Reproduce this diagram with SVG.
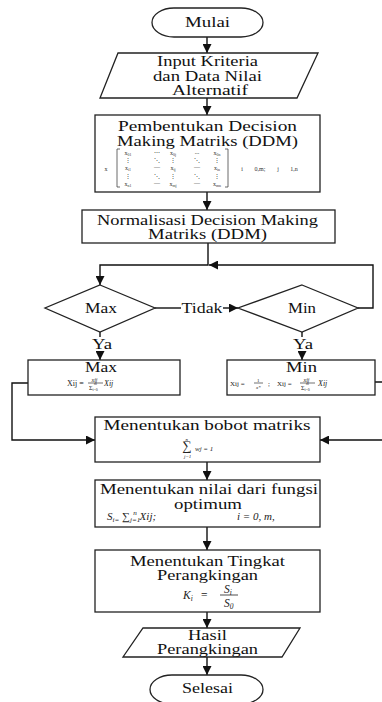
<svg xmlns="http://www.w3.org/2000/svg" width="382" height="702" viewBox="0 0 382 702">
<style>
.shape{fill:#fff;stroke:#222;stroke-width:1.3}
.line{fill:none;stroke:#111;stroke-width:1.4}
.t{font-family:"Liberation Serif","Times New Roman",serif;font-size:15px;fill:#111;text-anchor:middle}
.m{font-family:"Liberation Serif","Times New Roman",serif;font-size:6px;fill:#333;text-anchor:middle}
.f{font-family:"Liberation Serif","Times New Roman",serif;font-size:8px;fill:#222}
.i{font-style:italic}
.s{font-size:0.65em}
.bar{stroke:#333;stroke-width:0.7}
</style>
<defs>
<marker id="arr" viewBox="0 0 10 10" refX="10" refY="5" markerWidth="9" markerHeight="9" markerUnits="userSpaceOnUse" orient="auto">
<path d="M0,0 L10,5 L0,10 z" fill="#111"/>
</marker>
</defs>

<g id="connectors">
<path class="line" d="M207,37 V53" marker-end="url(#arr)"/>
<path class="line" d="M207,98 V115" marker-end="url(#arr)"/>
<path class="line" d="M207,192 V210" marker-end="url(#arr)"/>
<path class="line" d="M208,243 V265 H100 V285" marker-end="url(#arr)"/>
<path class="line" d="M358,308 H373 V265 H209" marker-end="url(#arr)"/>
<path class="line" d="M155,308 H181"/>
<path class="line" d="M223,308 H238" marker-end="url(#arr)"/>
<text class="t" x="202" y="313" textLength="41" lengthAdjust="spacingAndGlyphs">Tidak</text>
<path class="line" d="M100,332 V337"/>
<path class="line" d="M100,351 V360" marker-end="url(#arr)"/>
<text class="t" x="102" y="349" textLength="20" lengthAdjust="spacingAndGlyphs">Ya</text>
<path class="line" d="M302,332 V337"/>
<path class="line" d="M302,351 V360" marker-end="url(#arr)"/>
<text class="t" x="303" y="349" textLength="20" lengthAdjust="spacingAndGlyphs">Ya</text>
<path class="line" d="M28,383 H12 V440 H95" marker-end="url(#arr)"/>
<path class="line" d="M375,382 H392 V440 H320" marker-end="url(#arr)"/>
<path class="line" d="M207,462 V480" marker-end="url(#arr)"/>
<path class="line" d="M207,527 V550" marker-end="url(#arr)"/>
<path class="line" d="M207,612 V628" marker-end="url(#arr)"/>
<path class="line" d="M207,657 V675" marker-end="url(#arr)"/>
</g>

<g id="mulai">
<rect class="shape" x="152" y="8" width="111" height="29" rx="22" ry="14.5"/>
<text class="t" x="207.5" y="27" textLength="45" lengthAdjust="spacingAndGlyphs">Mulai</text>
</g>

<g id="input">
<polygon class="shape" points="118,53 318,53 297,98 100,98"/>
<text class="t" x="207.5" y="65.5" textLength="101" lengthAdjust="spacingAndGlyphs">Input Kriteria</text>
<text class="t" x="207.5" y="81" textLength="109" lengthAdjust="spacingAndGlyphs">dan Data Nilai</text>
<text class="t" x="210" y="94.5" textLength="76" lengthAdjust="spacingAndGlyphs">Alternatif</text>
</g>

<g id="pembentukan">
<rect class="shape" x="95" y="115" width="225" height="77"/>
<text class="t" x="207.5" y="131" textLength="179" lengthAdjust="spacingAndGlyphs">Pembentukan  Decision</text>
<text class="t" x="207.5" y="146" textLength="181" lengthAdjust="spacingAndGlyphs">Making Matriks (DDM)</text>
<path class="line" style="stroke-width:0.8;stroke:#444" d="M120,149 H117 V187 H120 M225,149 H228 V187 H225"/>
<text class="m"><tspan x="106" y="171">x</tspan><tspan x="128" y="155">x<tspan class="s" dy="1">01</tspan></tspan><tspan x="157" y="154">⋯</tspan><tspan x="173" y="155">x<tspan class="s" dy="1">0j</tspan></tspan><tspan x="197" y="154">...</tspan><tspan x="217" y="155">x<tspan class="s" dy="1">0n</tspan></tspan><tspan x="128" y="162">⋮</tspan><tspan x="157" y="162">⋱</tspan><tspan x="173" y="162">⋮</tspan><tspan x="197" y="162">⋱</tspan><tspan x="217" y="162">⋮</tspan><tspan x="128" y="170">x<tspan class="s" dy="1">i1</tspan></tspan><tspan x="157" y="169">—</tspan><tspan x="173" y="170">x<tspan class="s" dy="1">ij</tspan></tspan><tspan x="197" y="169">—</tspan><tspan x="217" y="170">x<tspan class="s" dy="1">in</tspan></tspan><tspan x="128" y="178">⋮</tspan><tspan x="157" y="178">⋱</tspan><tspan x="173" y="178">⋮</tspan><tspan x="197" y="178">⋱</tspan><tspan x="217" y="178">⋮</tspan><tspan x="128" y="186">x<tspan class="s" dy="1">n1</tspan></tspan><tspan x="157" y="185">—</tspan><tspan x="173" y="186">x<tspan class="s" dy="1">mj</tspan></tspan><tspan x="197" y="185">—</tspan><tspan x="217" y="186">x<tspan class="s" dy="1">mn</tspan></tspan><tspan x="242" y="171">i</tspan><tspan x="260" y="171">0,m;</tspan><tspan x="278" y="171">j</tspan><tspan x="294" y="171">1,n</tspan></text>
</g>

<g id="normalisasi">
<rect class="shape" x="82" y="210" width="253" height="33"/>
<text class="t" x="207.5" y="225" textLength="221" lengthAdjust="spacingAndGlyphs">Normalisasi Decision Making</text>
<text class="t" x="207.5" y="239" textLength="119" lengthAdjust="spacingAndGlyphs">Matriks (DDM)</text>
</g>

<g id="max-decision">
<polygon class="shape" points="100,285 155,308 100,332 45,308"/>
<text class="t" x="101" y="313" textLength="32" lengthAdjust="spacingAndGlyphs">Max</text>
</g>

<g id="min-decision">
<polygon class="shape" points="302,285 358,308 302,332 238,308"/>
<text class="t" x="302" y="313" textLength="28" lengthAdjust="spacingAndGlyphs">Min</text>
</g>

<g id="max-box">
<rect class="shape" x="28" y="360" width="152" height="35"/>
<text class="t" x="101" y="372" textLength="32" lengthAdjust="spacingAndGlyphs">Max</text>
<path class="bar" d="M88,383 H103"/>
<text class="f"><tspan x="67" y="386">Xij =</tspan><tspan class="i" x="91.5" y="381.5" style="font-size:6px">xij</tspan><tspan class="i" x="94" y="384.5" style="font-size:4px">m</tspan><tspan x="89" y="390" style="font-size:6px">Σ<tspan class="s" dy="1">i=0</tspan></tspan><tspan class="i" x="104" y="386">Xij</tspan></text>
</g>

<g id="min-box">
<rect class="shape" x="227" y="360" width="148" height="35"/>
<text class="t" x="301.5" y="372" textLength="31" lengthAdjust="spacingAndGlyphs">Min</text>
<path class="bar" d="M254,383 H263 M300,383 H315"/>
<text class="f" style="font-size:7px"><tspan x="230" y="386">Xij =</tspan><tspan x="257" y="381.5" style="font-size:5px">1</tspan><tspan class="i" x="256" y="389" style="font-size:5px">x*</tspan><tspan x="268" y="386">;</tspan><tspan x="277" y="386">Xij =</tspan><tspan class="i" x="303.5" y="381.5" style="font-size:6px">xij</tspan><tspan class="i" x="306" y="384.5" style="font-size:4px">m</tspan><tspan x="301" y="390" style="font-size:6px">Σ<tspan class="s" dy="1">i=0</tspan></tspan><tspan class="i" x="318" y="386" style="font-size:8px">Xij</tspan></text>
</g>

<g id="bobot">
<rect class="shape" x="95" y="417" width="225" height="45"/>
<text class="t" x="207" y="430" textLength="207" lengthAdjust="spacingAndGlyphs">Menentukan bobot matriks</text>
<text class="f i"><tspan x="185.5" y="440.5" style="font-size:5px">n</tspan><tspan x="182.5" y="450" style="font-size:13px;font-style:normal">∑</tspan><tspan x="184" y="457.5" style="font-size:5px">j=1</tspan><tspan x="195" y="451" style="font-size:7px">wj = 1</tspan></text>
</g>

<g id="nilai">
<rect class="shape" x="95" y="480" width="225" height="47"/>
<text class="t" x="209" y="494" textLength="218" lengthAdjust="spacingAndGlyphs">Menentukan nilai dari fungsi</text>
<text class="t" x="208" y="509" textLength="68" lengthAdjust="spacingAndGlyphs">optimum</text>
<text class="f i" style="font-size:11px"><tspan x="107" y="520">S</tspan><tspan class="s" dy="2">i=</tspan><tspan dy="-2" font-style="normal"> ∑</tspan><tspan class="s" dy="2">j=1</tspan><tspan class="s" dx="-7" dy="-7">n</tspan><tspan dy="5"> Xij;</tspan><tspan x="237" y="520">i =    0, m,</tspan></text>
</g>

<g id="tingkat">
<rect class="shape" x="95" y="550" width="225" height="62"/>
<text class="t" x="207.5" y="566" textLength="155" lengthAdjust="spacingAndGlyphs">Menentukan Tingkat</text>
<text class="t" x="207.5" y="580" textLength="101" lengthAdjust="spacingAndGlyphs">Perangkingan</text>
<path d="M220,595 H238" stroke="#222" stroke-width="0.8"/>
<text class="f i" style="font-size:11.5px"><tspan x="183" y="599">K</tspan><tspan class="s" dy="2">i</tspan><tspan x="201" y="599" font-style="normal">=</tspan><tspan x="224" y="592.5">S</tspan><tspan class="s" dy="2">i</tspan><tspan x="224" y="607">S</tspan><tspan class="s" dy="2">0</tspan></text>
</g>

<g id="hasil">
<polygon class="shape" points="143,628 300,628 282,657 123,657"/>
<text class="t" x="207.5" y="640" textLength="39" lengthAdjust="spacingAndGlyphs">Hasil</text>
<text class="t" x="207.5" y="654" textLength="101" lengthAdjust="spacingAndGlyphs">Perangkingan</text>
</g>

<g id="selesai">
<rect class="shape" x="150" y="675" width="113" height="29" rx="22" ry="14.5"/>
<text class="t" x="207.5" y="693" textLength="51" lengthAdjust="spacingAndGlyphs">Selesai</text>
</g>
</svg>
